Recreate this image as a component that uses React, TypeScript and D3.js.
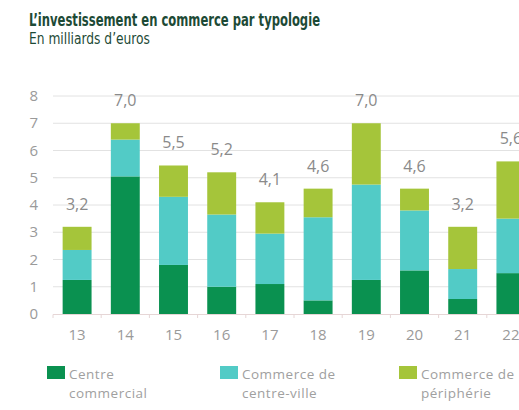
import * as d3 from "d3";
import { useEffect, useRef } from "react";

const years = ["13", "14", "15", "16", "17", "18", "19", "20", "21", "22"];
const centreCommercial = [1.25, 5.05, 1.8, 1.0, 1.1, 0.5, 1.25, 1.6, 0.55, 1.5];
const centreVille = [1.1, 1.35, 2.5, 2.65, 1.85, 3.05, 3.5, 2.2, 1.1, 2.0];
const peripherie = [0.85, 0.6, 1.15, 1.55, 1.15, 1.05, 2.25, 0.8, 1.55, 2.1];
const totals = ["3,2", "7,0", "5,5", "5,2", "4,1", "4,6", "7,0", "4,6", "3,2", "5,6"];
const yTicks = [0, 1, 2, 3, 4, 5, 6, 7, 8];
const seriesNames = [
  ["Centre", "commercial"],
  ["Commerce de", "centre-ville"],
  ["Commerce de", "périphérie"],
];
const colors = ["#0a9150", "#52cbc6", "#a5c53a"];

const App = () => {
  const ref = useRef(null);

  useEffect(() => {
    const svg = d3.select(ref.current);
    svg.selectAll("*").remove();

    const font = "'Open Sans', 'DejaVu Sans', sans-serif";
    const grey = "#9a9a9a";

    // titres
    svg.append("text")
      .attr("x", 29).attr("y", 26)
      .attr("font-family", "'Liberation Sans Narrow', 'DejaVu Sans Condensed', sans-serif")
      .attr("font-weight", "bold").attr("font-size", 17)
      .attr("textLength", 291).attr("lengthAdjust", "spacingAndGlyphs")
      .attr("fill", "#1d4a36")
      .text("L’investissement en commerce par typologie");
    svg.append("text")
      .attr("x", 29).attr("y", 44)
      .attr("font-family", "'Liberation Sans Narrow', 'DejaVu Sans Condensed', sans-serif")
      .attr("font-size", 16)
      .attr("textLength", 121).attr("lengthAdjust", "spacingAndGlyphs")
      .attr("fill", "#1d4a36")
      .text("En milliards d’euros");

    const x = d3.scaleBand().domain(years).range([53, 535]).paddingInner(0.4).paddingOuter(0.2);
    const y = d3.scaleLinear().domain([0, 8]).range([314, 96]);

    // grille
    svg.append("g").selectAll("line").data(yTicks.filter(d => d > 0)).enter().append("line")
      .attr("x1", 53).attr("x2", 519)
      .attr("y1", d => y(d)).attr("y2", d => y(d))
      .attr("stroke", "#e2e2e2").attr("stroke-width", 1);

    svg.append("g").selectAll("text").data(yTicks).enter().append("text")
      .attr("x", 38).attr("y", d => y(d) + 5)
      .attr("text-anchor", "end")
      .attr("font-family", font).attr("font-size", 15).attr("fill", grey)
      .text(d => d);

    // barres empilées
    const table = years.map((yr, i) => ({
      year: yr,
      a: centreCommercial[i],
      b: centreVille[i],
      c: peripherie[i],
    }));
    const stack = d3.stack().keys(["a", "b", "c"])(table as any);

    stack.forEach((layer, k) => {
      svg.append("g").selectAll("rect").data(layer).enter().append("rect")
        .attr("x", d => x((d.data as any).year))
        .attr("y", d => y(d[1]))
        .attr("width", x.bandwidth())
        .attr("height", d => y(d[0]) - y(d[1]))
        .attr("fill", colors[k]);
    });

    // axe X
    svg.append("line")
      .attr("x1", 53).attr("x2", 519).attr("y1", 314.5).attr("y2", 314.5)
      .attr("stroke", "#e6d6d6");
    svg.append("g").selectAll("line").data(d3.range(years.length)).enter().append("line")
      .attr("x1", i => 53 + i * x.step()).attr("x2", i => 53 + i * x.step())
      .attr("y1", 314.5).attr("y2", 318)
      .attr("stroke", "#e6d6d6");

    svg.append("g").selectAll("text").data(years).enter().append("text")
      .attr("x", d => x(d)! + x.bandwidth() / 2).attr("y", 340)
      .attr("text-anchor", "middle")
      .attr("font-family", font).attr("font-size", 15).attr("fill", grey)
      .text(d => d);

    // totaux
    const top = stack[2];
    svg.append("g").selectAll("text").data(top).enter().append("text")
      .attr("x", d => x((d.data as any).year)! + x.bandwidth() / 2)
      .attr("y", d => y(d[1]) - 17)
      .attr("text-anchor", "middle")
      .attr("font-family", font).attr("font-size", 16).attr("fill", "#8a8a8a")
      .text((d, i) => totals[i]);

    // légende
    const legendX = [47, 220, 399];
    const lg = svg.append("g").selectAll("g").data(seriesNames).enter().append("g")
      .attr("transform", (d, i) => `translate(${legendX[i]},0)`);
    lg.append("rect")
      .attr("x", 0).attr("y", 366).attr("width", 18).attr("height", 13)
      .attr("fill", (d, i) => colors[i]);
    lg.append("text")
      .attr("x", 22).attr("y", 379)
      .attr("font-family", font).attr("font-size", 13.5).attr("letter-spacing", 0.5)
      .attr("fill", "#a0a0a0")
      .text(d => d[0]);
    lg.append("text")
      .attr("x", 22).attr("y", 398)
      .attr("font-family", font).attr("font-size", 13.5).attr("letter-spacing", 0.5)
      .attr("fill", "#a0a0a0")
      .text(d => d[1]);
  }, []);

  return (
    <svg ref={ref} width="519" height="410" style={{ position: "absolute", left: 0, top: 0 }}></svg>
  );
};

export default App;
